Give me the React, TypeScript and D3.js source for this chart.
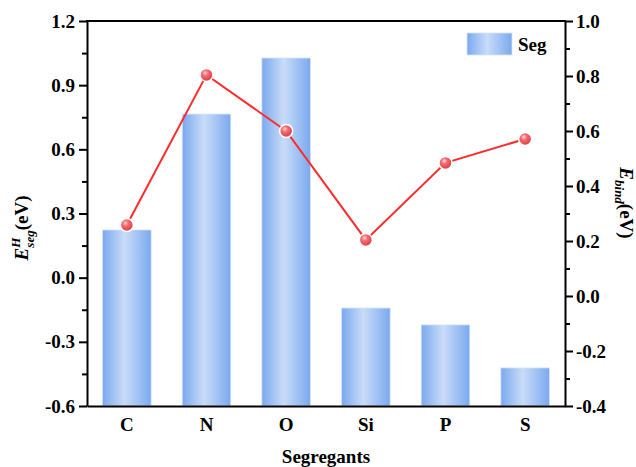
import React, { useRef, useEffect } from "react";
import * as d3 from "d3";

const categories = ["C", "N", "O", "Si", "P", "S"];
const segValues = [0.223, 0.765, 1.027, -0.142, -0.221, -0.422];
const bindValues = [0.258, 0.804, 0.6, 0.204, 0.484, 0.571];
const leftTicks = [-0.6, -0.3, 0.0, 0.3, 0.6, 0.9, 1.2];
const rightTicks = [-0.4, -0.2, 0.0, 0.2, 0.4, 0.6, 0.8, 1.0];

const FONT = "'Liberation Serif', 'Times New Roman', serif";
const fmt = (d: d3.NumberValue) => d3.format(".1f")(d).replace("\u2212", "-");

const SegChart = () => {
	const svgRef = useRef<SVGSVGElement | null>(null);

	useEffect(() => {
		if (!svgRef.current) return;
		const width = 636;
		const height = 467;
		const margin = { top: 21, right: 71, bottom: 61, left: 87 };
		const innerWidth = width - margin.left - margin.right;
		const innerHeight = height - margin.top - margin.bottom;

		const svg = d3.select(svgRef.current);
		svg.attr("width", width).attr("height", height);
		svg.selectAll("*").remove();

		const defs = svg.append("defs");
		const barGrad = defs
			.append("linearGradient")
			.attr("id", "barGrad")
			.attr("x1", "0%")
			.attr("y1", "0%")
			.attr("x2", "100%")
			.attr("y2", "0%");
		barGrad.append("stop").attr("offset", "0%").attr("stop-color", "#7aa9ef");
		barGrad.append("stop").attr("offset", "45%").attr("stop-color", "#c9dcf8");
		barGrad.append("stop").attr("offset", "100%").attr("stop-color", "#7aa9ef");

		const dotGrad = defs
			.append("radialGradient")
			.attr("id", "dotGrad")
			.attr("cx", "40%")
			.attr("cy", "35%")
			.attr("r", "65%");
		dotGrad.append("stop").attr("offset", "0%").attr("stop-color", "#ffd6d6");
		dotGrad.append("stop").attr("offset", "35%").attr("stop-color", "#f26d72");
		dotGrad.append("stop").attr("offset", "100%").attr("stop-color", "#d93c44");

		const g = svg
			.append("g")
			.attr("transform", `translate(${margin.left},${margin.top})`);

		const x = d3
			.scaleBand<string>()
			.domain(categories)
			.range([0, innerWidth])
			.paddingInner(0.39)
			.paddingOuter(0.195);
		const yL = d3.scaleLinear().domain([-0.6, 1.2]).range([innerHeight, 0]);
		const yR = d3.scaleLinear().domain([-0.4, 1.0]).range([innerHeight, 0]);

		// bars
		g.selectAll("rect.bar")
			.data(segValues)
			.join("rect")
			.attr("class", "bar")
			.attr("x", (_, i) => x(categories[i])!)
			.attr("y", (d) => yL(d))
			.attr("width", x.bandwidth())
			.attr("height", (d) => innerHeight - yL(d))
			.attr("fill", "url(#barGrad)")
			.attr("stroke", "#d6e4f8")
			.attr("stroke-width", 0.8);

		// line
		const line = d3
			.line<number>()
			.x((_, i) => x(categories[i])! + x.bandwidth() / 2)
			.y((d) => yR(d));
		g.append("path")
			.datum(bindValues)
			.attr("d", line)
			.attr("fill", "none")
			.attr("stroke", "#ff2a2a")
			.attr("stroke-width", 2);

		g.selectAll("circle.dot")
			.data(bindValues)
			.join("circle")
			.attr("class", "dot")
			.attr("cx", (_, i) => x(categories[i])! + x.bandwidth() / 2)
			.attr("cy", (d) => yR(d))
			.attr("r", 6.5)
			.attr("fill", "url(#dotGrad)")
			.attr("stroke", "#fff")
			.attr("stroke-width", 1.5);

		// axes
		const styleAxis = (sel: d3.Selection<SVGGElement, unknown, null, undefined>) => {
			sel.select(".domain").attr("stroke", "#000").attr("stroke-width", 2);
			sel.selectAll(".tick line").attr("stroke", "#000").attr("stroke-width", 2);
			sel.selectAll(".tick text")
				.attr("font-family", FONT)
				.attr("font-weight", "bold")
				.attr("font-size", 19)
				.attr("fill", "#000");
		};

		const leftAxis = g
			.append("g")
			.call(
				d3
					.axisLeft(yL)
					.tickValues(leftTicks)
					.tickSize(8)
					.tickSizeOuter(0)
					.tickPadding(4)
					.tickFormat(fmt)
			);
		styleAxis(leftAxis);
		g.append("g")
			.call(
				d3
					.axisLeft(yL)
					.tickValues(d3.range(-0.45, 1.2, 0.3))
					.tickSize(5)
					.tickSizeOuter(0)
					.tickFormat(() => "")
			)
			.call((s) => {
				s.select(".domain").remove();
				s.selectAll(".tick line").attr("stroke", "#000").attr("stroke-width", 2);
			});

		const rightAxis = g
			.append("g")
			.attr("transform", `translate(${innerWidth},0)`)
			.call(
				d3
					.axisRight(yR)
					.tickValues(rightTicks)
					.tickSize(8)
					.tickSizeOuter(0)
					.tickPadding(3)
					.tickFormat(fmt)
			);
		styleAxis(rightAxis);
		g.append("g")
			.attr("transform", `translate(${innerWidth},0)`)
			.call(
				d3
					.axisRight(yR)
					.tickValues(d3.range(-0.3, 1.0, 0.2))
					.tickSize(5)
					.tickSizeOuter(0)
					.tickFormat(() => "")
			)
			.call((s) => {
				s.select(".domain").remove();
				s.selectAll(".tick line").attr("stroke", "#000").attr("stroke-width", 2);
			});

		const bottomAxis = g
			.append("g")
			.attr("transform", `translate(0,${innerHeight})`)
			.call(d3.axisBottom(x).tickSize(0).tickSizeOuter(0).tickPadding(12));
		styleAxis(bottomAxis);

		// top border
		g.append("line")
			.attr("x1", -1)
			.attr("x2", innerWidth + 1)
			.attr("y1", 0)
			.attr("y2", 0)
			.attr("stroke", "#000")
			.attr("stroke-width", 2);

		// axis titles
		svg.append("text")
			.attr("x", margin.left + innerWidth / 2)
			.attr("y", 463)
			.attr("text-anchor", "middle")
			.attr("font-family", FONT)
			.attr("font-weight", "bold")
			.attr("font-size", 19)
			.text("Segregants");

		const lt = svg
			.append("text")
			.attr("transform", "translate(28,228) rotate(-90)")
			.attr("text-anchor", "middle")
			.attr("font-family", FONT)
			.attr("font-weight", "bold")
			.attr("font-size", 19);
		lt.append("tspan").attr("font-style", "italic").text("E");
		lt.append("tspan")
			.attr("font-style", "italic")
			.attr("font-size", 13)
			.attr("dy", -8)
			.text("H");
		lt.append("tspan")
			.attr("font-style", "italic")
			.attr("font-size", 13)
			.attr("dx", -10)
			.attr("dy", 14)
			.text("seg");
		lt.append("tspan").attr("dy", -6).text("(eV)");

		const rt = svg
			.append("text")
			.attr("transform", "translate(620,203) rotate(90)")
			.attr("text-anchor", "middle")
			.attr("font-family", FONT)
			.attr("font-weight", "bold")
			.attr("font-size", 19);
		rt.append("tspan").attr("font-style", "italic").text("E");
		rt.append("tspan")
			.attr("font-style", "italic")
			.attr("font-size", 13)
			.attr("dy", 5)
			.text("bind");
		rt.append("tspan").attr("dy", -5).text("(eV)");

		// legend
		const legend = g.append("g").attr("transform", `translate(${467 - margin.left},${33 - margin.top})`);
		legend
			.append("rect")
			.attr("width", 45)
			.attr("height", 22)
			.attr("fill", "url(#barGrad)")
			.attr("stroke", "#d6e4f8")
			.attr("stroke-width", 0.8);
		legend
			.append("text")
			.attr("x", 51)
			.attr("y", 18)
			.attr("font-family", FONT)
			.attr("font-weight", "bold")
			.attr("font-size", 19)
			.text("Seg");
	}, []);

	return (
		<div style={{ position: "absolute", left: 0, top: 0, background: "#fff" }}>
			<svg ref={svgRef}></svg>
		</div>
	);
};

export default function App() {
	return <SegChart />;
}
